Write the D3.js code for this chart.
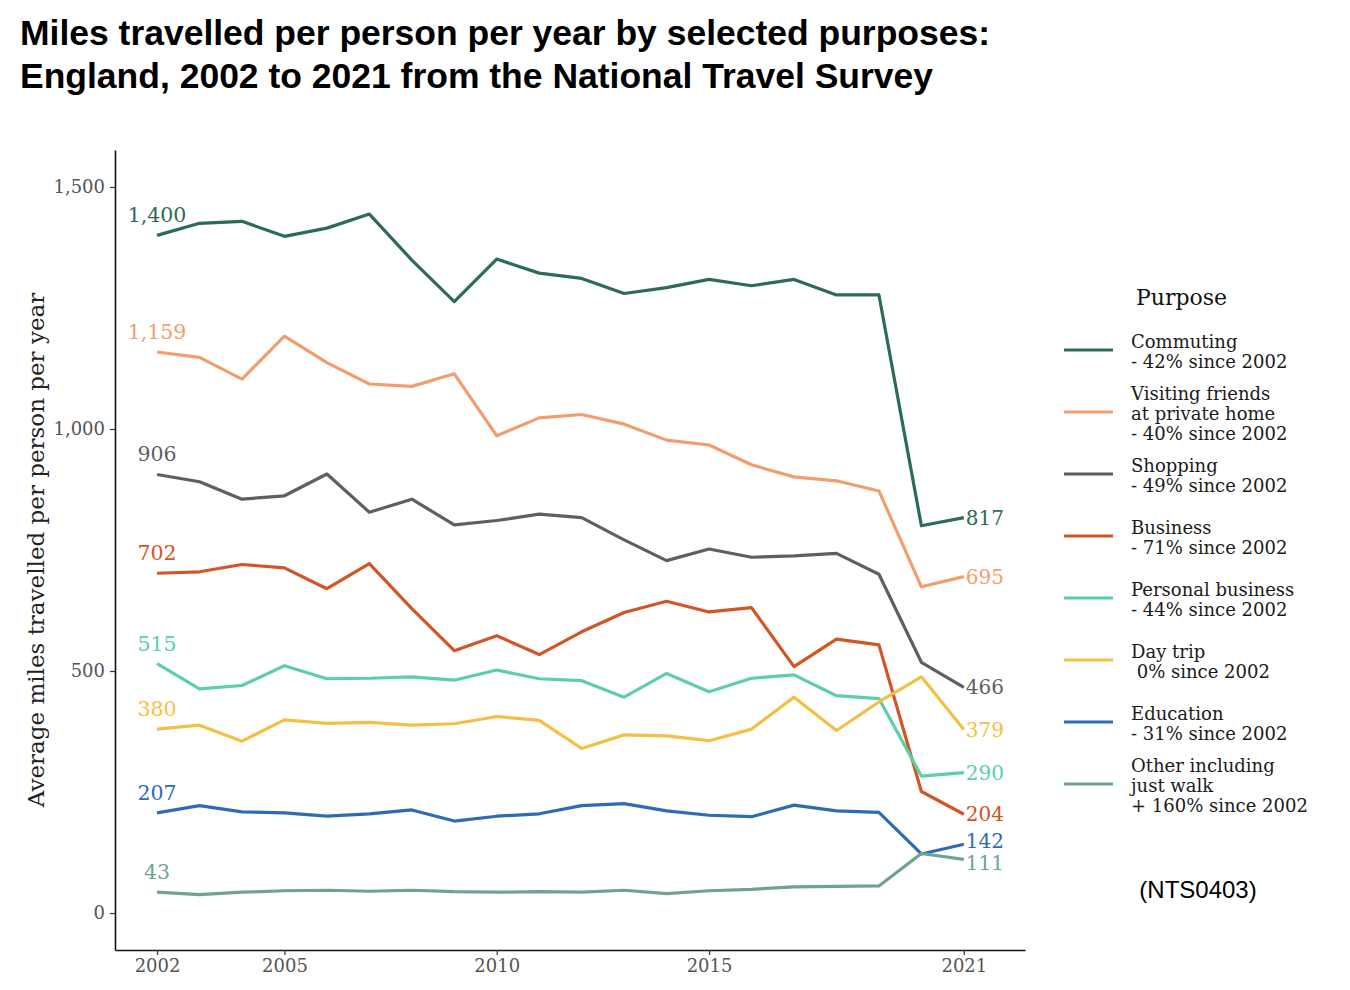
<!DOCTYPE html>
<html>
<head>
<meta charset="utf-8">
<script src="https://cdn.jsdelivr.net/npm/d3@7"></script>
<style>
  html, body { margin: 0; padding: 0; background: #fff; }
  svg { display: block; }
  text { white-space: pre; }
</style>
</head>
<body>
<svg id="chart" width="1350" height="990"></svg>
<script>
// ---- Data ----
const years = d3.range(2002, 2022);
const commuting = [1400,1425,1429,1398,1415,1444,1349,1263,1351,1322,1311,1280,1292,1309,1296,1309,1277,1277,800,817];
const visiting  = [1159,1148,1103,1192,1137,1093,1088,1114,986,1023,1030,1010,977,967,926,901,893,872,674,695];
const shopping  = [906,891,855,862,907,828,855,802,811,824,817,771,728,752,735,738,743,700,518,466];
const business  = [702,705,720,713,670,722,629,542,573,534,581,621,644,622,631,509,566,554,251,204];
const personal  = [515,463,470,511,484,485,488,481,502,484,480,446,495,457,485,492,449,443,283,290];
const daytrip   = [380,388,355,399,392,394,388,391,406,398,340,368,366,356,380,446,377,436,488,379];
const education = [207,222,209,207,200,205,213,190,200,205,222,226,211,202,199,223,211,208,122,142];
const other     = [43,38,43,46,47,45,47,44,43,44,43,47,40,46,49,54,55,56,123,111];

const seriesNames = ["Commuting","Visiting friends","Shopping","Business","Personal business","Day trip","Education","Other"];
const legendLabels = [
  ["Commuting","- 42% since 2002"],
  ["Visiting friends","at private home","- 40% since 2002"],
  ["Shopping","- 49% since 2002"],
  ["Business","- 71% since 2002"],
  ["Personal business","- 44% since 2002"],
  ["Day trip"," 0% since 2002"],
  ["Education","- 31% since 2002"],
  ["Other including","just walk","+ 160% since 2002"]
];
const colors = ["#2e6b55","#f29d6e","#5f5f5f","#d15526","#5ccfa6","#f4bf45","#2f6bb4","#6fa293"];
const yTicks = [0, 500, 1000, 1500];
const xTicks = [2002, 2005, 2010, 2015, 2021];

const allValues = [commuting, visiting, shopping, business, personal, daytrip, education, other];
const series = seriesNames.map((name, i) => ({
  name, color: colors[i], legend: legendLabels[i],
  values: years.map((yr, j) => ({ year: yr, value: allValues[i][j] }))
}));

// ---- Layout ----
const svg = d3.select("#chart");
const serif = "DejaVu Serif, serif";

const x = d3.scaleLinear().domain([2001.01, 2022.44]).range([115, 1025]);
const y = d3.scaleLinear().domain([-76.4, 1576.4]).range([950, 150]);

// Title
const title = svg.append("g").attr("font-family", "Liberation Sans, Arial, sans-serif")
  .attr("font-weight", "bold").attr("font-size", 35).attr("fill", "#000");
title.append("text").attr("x", 20).attr("y", 45)
  .attr("textLength", 970).attr("lengthAdjust", "spacingAndGlyphs")
  .text("Miles travelled per person per year by selected purposes:");
title.append("text").attr("x", 20).attr("y", 88)
  .attr("textLength", 913).attr("lengthAdjust", "spacingAndGlyphs")
  .text("England, 2002 to 2021 from the National Travel Survey");

// Axes
const yAxis = svg.append("g").attr("transform", "translate(115,0)")
  .call(d3.axisLeft(y).tickValues(yTicks).tickSize(5).tickSizeOuter(0).tickPadding(5)
    .tickFormat(d3.format(",")));
const xAxis = svg.append("g").attr("transform", "translate(0,950)")
  .call(d3.axisBottom(x).tickValues(xTicks).tickSize(5).tickSizeOuter(0).tickPadding(4)
    .tickFormat(d => String(d)));
[yAxis, xAxis].forEach(ax => {
  ax.select(".domain").attr("stroke", "#111").attr("stroke-width", 1.6);
  ax.selectAll(".tick line").attr("stroke", "#333").attr("stroke-width", 1.2);
  ax.selectAll(".tick text").attr("font-family", serif).attr("font-size", 18)
    .attr("fill", "#555");
});

// Y axis title
svg.append("text")
  .attr("transform", "translate(44,550) rotate(-90)")
  .attr("text-anchor", "middle")
  .attr("font-family", serif).attr("font-size", 23).attr("fill", "#222")
  .text("Average miles travelled per person per year");

// Lines
const line = d3.line().x(d => x(d.year)).y(d => y(d.value));
svg.append("g").selectAll("path").data(series).join("path")
  .attr("d", d => line(d.values))
  .attr("fill", "none")
  .attr("stroke", d => d.color)
  .attr("stroke-width", 3.2)
  .attr("stroke-linejoin", "round");

// Start labels
svg.append("g").selectAll("text").data(series).join("text")
  .attr("x", d => x(d.values[0].year))
  .attr("y", d => y(d.values[0].value) - 13)
  .attr("text-anchor", "middle")
  .attr("font-family", serif).attr("font-size", 20.5)
  .attr("fill", d => d.color)
  .text(d => d3.format(",")(d.values[0].value));

// End labels with simple repel
const ends = series.map(s => {
  const last = s.values[s.values.length - 1];
  return { s, value: last.value, yy: y(last.value), year: last.year };
}).sort((a, b) => a.yy - b.yy);
const minGap = 22;
for (let iter = 0; iter < 20; iter++) {
  for (let i = 1; i < ends.length; i++) {
    const gap = ends[i].yy - ends[i - 1].yy;
    if (gap < minGap) {
      const push = (minGap - gap) / 2;
      ends[i].yy += push;
      ends[i - 1].yy -= push;
    }
  }
}
svg.append("g").selectAll("text").data(ends).join("text")
  .attr("x", d => x(d.year) + 2)
  .attr("y", d => d.yy)
  .attr("dominant-baseline", "central")
  .attr("font-family", serif).attr("font-size", 20)
  .attr("fill", d => d.s.color)
  .text(d => d3.format(",")(d.value));

// Legend
const legend = svg.append("g");
legend.append("text").attr("x", 1136).attr("y", 305)
  .attr("font-family", serif).attr("font-size", 22).attr("fill", "#111")
  .text("Purpose");
const items = legend.selectAll("g.item").data(series).join("g")
  .attr("class", "item")
  .attr("transform", (d, i) => `translate(0,${350 + i * 62})`);
items.append("line")
  .attr("x1", 1064).attr("x2", 1113).attr("y1", 0).attr("y2", 0)
  .attr("stroke", d => d.color).attr("stroke-width", 3.2);
items.each(function(d) {
  const g = d3.select(this);
  const n = d.legend.length;
  const lh = 20;
  d.legend.forEach((t, k) => {
    g.append("text")
      .attr("x", 1131)
      .attr("y", (k - (n - 1) / 2) * lh + 1)
      .attr("dominant-baseline", "central")
      .attr("font-family", serif).attr("font-size", 18).attr("fill", "#1a1a1a")
      .text(t);
  });
});

// Source note
svg.append("text").attr("x", 1198).attr("y", 889)
  .attr("text-anchor", "middle").attr("dominant-baseline", "central")
  .attr("font-family", "Liberation Sans, Arial, sans-serif").attr("font-size", 24)
  .attr("fill", "#000")
  .text("(NTS0403)");
</script>
</body>
</html>
